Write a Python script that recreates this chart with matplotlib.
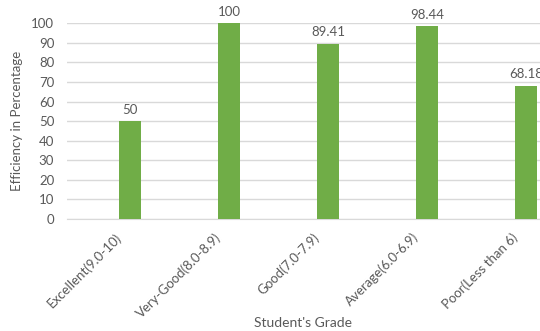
import matplotlib
matplotlib.use("Agg")
import matplotlib.pyplot as plt
import matplotlib.transforms as mtransforms

categories = ["Excellent(9.0-10)", "Very-Good(8.0-8.9)", "Good(7.0-7.9)",
              "Average(6.0-6.9)", "Poor(Less than 6)"]
values = [50, 100, 89.41, 98.44, 68.18]
value_labels = ["50", "100", "89.41", "98.44", "68.18"]
y_ticks = [0, 10, 20, 30, 40, 50, 60, 70, 80, 90, 100]

plt.rcParams['font.family'] = ['Lato', 'DejaVu Sans']
gray = "#595959"

fig = plt.figure(figsize=(5.4, 3.31), dpi=100)
ax = fig.add_axes([0.1235, 0.3384, 0.8765, 0.5912])
x = list(range(len(categories)))
ax.bar(x, values, width=0.22, color="#70ad47", zorder=3)
ax.set_xlim(-0.64, 4.14)
ax.set_ylim(0, 100)
ax.set_yticks(y_ticks)
ax.grid(axis='y', color="#d9d9d9", linewidth=1, zorder=0)
for s in ['top', 'right', 'left']:
    ax.spines[s].set_visible(False)
ax.spines['bottom'].set_color("#d9d9d9")
ax.tick_params(axis='both', length=0, colors=gray, labelsize=9.5)
ax.tick_params(axis='y', pad=9)
ax.set_xticks(x)
ax.set_xticklabels(categories, rotation=45, ha='right', va='top', rotation_mode='anchor')
offset = mtransforms.ScaledTranslation(-15/100, -7/100, fig.dpi_scale_trans)
for lab in ax.get_xticklabels():
    lab.set_transform(lab.get_transform() + offset)
for xi, v, t in zip(x, values, value_labels):
    ax.annotate(t, (xi, v), xytext=(0, 4), textcoords='offset points',
                ha='center', va='bottom', fontsize=9.5, color=gray, annotation_clip=False)
ax.set_ylabel("Efficiency in Percentage", fontsize=9.5, color=gray, labelpad=6)
ax.set_xlabel("Student's Grade", fontsize=10, color=gray)
ax.xaxis.set_label_coords(0.5, -0.5)
fig.savefig("out.png", dpi=100)
